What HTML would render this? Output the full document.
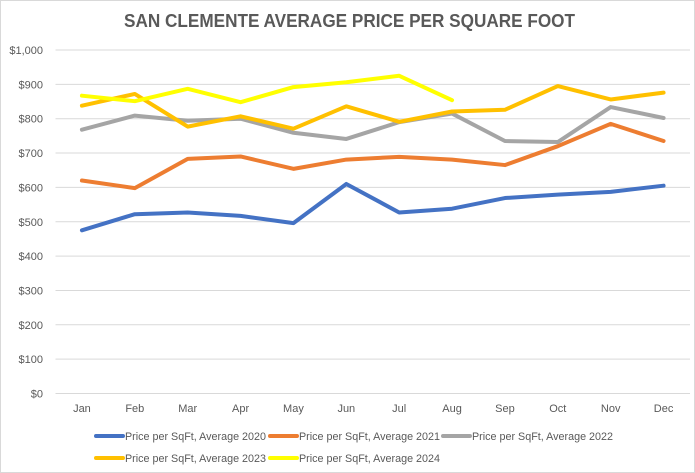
<!DOCTYPE html>
<html><head><meta charset="utf-8"><style>
body{margin:0;background:#fff;font-family:"Liberation Sans",sans-serif}
svg{display:block}
</style></head><body>
<svg id="c" width="695" height="473" xmlns="http://www.w3.org/2000/svg">
<rect x="0.5" y="0.5" width="694" height="472" fill="#fff" stroke="#d9d9d9"/>
<text x="124" y="27" textLength="451" lengthAdjust="spacingAndGlyphs" font-size="18" font-weight="bold" fill="#595959">SAN CLEMENTE AVERAGE PRICE PER SQUARE FOOT</text>
<g id="grid"></g><g id="series"></g><g id="legend"></g>
</svg>
<script>
const months=["Jan","Feb","Mar","Apr","May","Jun","Jul","Aug","Sep","Oct","Nov","Dec"];
const yTicks=[0,100,200,300,400,500,600,700,800,900,1000];
const s2020=[475,522,527,517,496,610,527,538,569,579,587,605];
const s2021=[620,598,683,690,654,681,689,681,665,720,785,735];
const s2022=[768,809,794,800,759,741,790,815,735,732,834,802];
const s2023=[838,872,777,807,771,836,791,821,826,895,856,876];
const s2024=[867,851,887,848,892,906,925,854];
const seriesNames=["Price per SqFt, Average 2020","Price per SqFt, Average 2021","Price per SqFt, Average 2022","Price per SqFt, Average 2023","Price per SqFt, Average 2024"];
const colors=["#4472c4","#ed7d31","#a5a5a5","#ffc000","#ffff00"];
const NS="http://www.w3.org/2000/svg";
const L=55.5,R=690,T=50,B=393.5;
const band=(R-L)/months.length;
const x=i=>L+band*(i+0.5);
const y=v=>B-(v/1000)*(B-T);
function mk(tag,attrs,parent){const e=document.createElementNS(NS,tag);for(const k in attrs)e.setAttribute(k,attrs[k]);parent.appendChild(e);return e;}
const grid=document.getElementById('grid');
yTicks.forEach(v=>{
  const ln=mk('line',{x1:L,x2:R,y1:y(v),y2:y(v),stroke:'#d9d9d9','stroke-width':1},grid);
  
  
  const t=mk('text',{x:43,y:y(v)+4,'text-anchor':'end','font-size':11,fill:'#595959'},grid);
  t.textContent='$'+v.toLocaleString('en-US');
  
  
});
months.forEach((m,i)=>{
  const t=mk('text',{x:x(i),y:412,'text-anchor':'middle','font-size':11,fill:'#595959'},grid);
  t.textContent=m;
  
  
});
const data=[s2020,s2021,s2022,s2023,s2024];
const sg=document.getElementById('series');
data.forEach((d,k)=>{
  const pts=d.map((v,i)=>x(i)+','+y(v)).join(' ');
  const p=mk('polyline',{points:pts,fill:'none',stroke:colors[k],'stroke-width':4,'stroke-linejoin':'round','stroke-linecap':'round'},sg);
  
  
});
const lg=document.getElementById('legend');
const lpos=[[96,436],[270,436],[443,436],[96,458],[270,458]];
seriesNames.forEach((n,k)=>{
  const [lx,ly]=lpos[k];
  const g=mk('g',{},lg);
  
  
  mk('line',{x1:lx,x2:lx+27,y1:ly,y2:ly,stroke:colors[k],'stroke-width':4,'stroke-linecap':'round'},g);
  const t=mk('text',{x:lx+29,y:ly+4,'font-size':11,fill:'#595959',textLength:141,lengthAdjust:'spacingAndGlyphs'},g);
  t.textContent=n;
});
</script>
</body></html>
